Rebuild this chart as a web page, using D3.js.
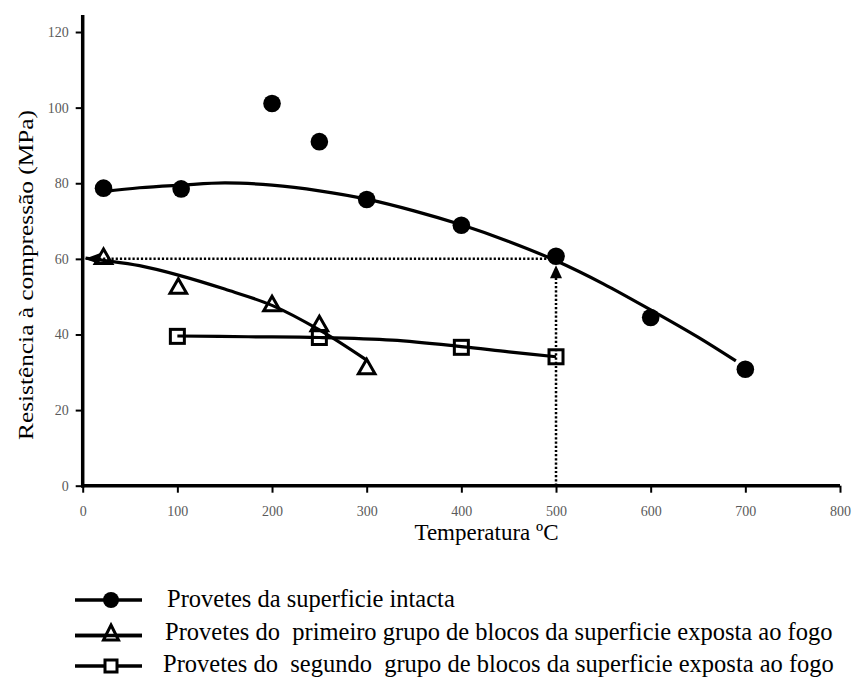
<!DOCTYPE html>
<html>
<head>
<meta charset="utf-8">
<script src="https://cdn.jsdelivr.net/npm/d3@7"></script>
<style>
  body { margin: 0; background: #fff; }
  text { font-family: "Liberation Serif", "Times New Roman", serif; }
</style>
</head>
<body>
<svg id="chart" width="855" height="682"></svg>
<script>
// Axis ticks
const xTicks = [0, 100, 200, 300, 400, 500, 600, 700, 800];
const yTicks = [0, 20, 40, 60, 80, 100, 120];

// Measured compressive strength (MPa) against temperature (°C)
const intactTemp = [22, 104, 200, 250, 300, 400, 500, 600, 700];
const intactStrength = [78.7, 78.5, 101.1, 91.0, 75.7, 68.9, 60.7, 44.5, 30.8];
const group1Temp = [22, 101, 200, 250, 300];
const group1Strength = [60.7, 52.8, 48.2, 42.9, 31.5];
const group2Temp = [100, 250, 400, 500];
const group2Strength = [39.5, 39.2, 36.6, 34.1];

// Fitted trend curves
const intactFitTemp = [22, 60, 104, 150, 200, 250, 300, 350, 400, 450, 500, 550, 600, 650, 690];
const intactFitStrength = [77.8, 78.8, 79.5, 80.1, 79.5, 78.0, 75.8, 72.7, 69.0, 64.6, 59.5, 53.4, 46.5, 39.3, 33.0];
const group1FitTemp = [3, 22, 60, 101, 150, 200, 250, 300];
const group1FitStrength = [60.2, 59.6, 58.2, 55.7, 52.0, 47.7, 41.2, 33.2];
const group2FitTemp = [100, 175, 250, 327, 400, 450, 500];
const group2FitStrength = [39.6, 39.4, 39.2, 38.5, 36.8, 35.4, 34.1];

// Reading guide: strength level 60 MPa reached at 500 °C
const guideTemp = 500;
const guideStrength = 60;
const guideArrowTip = 58.3;

// Legend labels
const legendLabels = [
  "Provetes da superficie intacta",
  "Provetes do  primeiro grupo de blocos da superficie exposta ao fogo",
  "Provetes do  segundo  grupo de blocos da superficie exposta ao fogo"
];

const svg = d3.select("#chart");

const x = d3.scaleLinear().domain([0, 800]).range([82.7, 840]);
const y = d3.scaleLinear().domain([0, 124.5]).range([485.7, 15]);

// Axes
const xAxis = svg.append("g")
  .attr("transform", `translate(0,${y(0)})`)
  .call(d3.axisBottom(x).tickValues(xTicks).tickSizeOuter(0).tickSize(7).tickPadding(13));
const yAxis = svg.append("g")
  .attr("transform", `translate(${x(0)},0)`)
  .call(d3.axisLeft(y).tickValues(yTicks).tickSizeOuter(0).tickSize(7).tickPadding(7));

[xAxis, yAxis].forEach(g => {
  g.select(".domain").attr("stroke", "#000").attr("stroke-width", 3.5);
  g.selectAll(".tick line").attr("stroke", "#000").attr("stroke-width", 2);
  g.selectAll(".tick text")
    .attr("fill", "#5a5a5a")
    .style("font-size", "14px")
    .style("font-family", "'Liberation Serif', serif");
});
xAxis.select(".domain").attr("d", `M${x(0) - 1.7},0H${x(800)}`);
yAxis.select(".domain").attr("d", `M0,${y(0) + 1.7}V${y(124.5)}`);

// Axis titles
svg.append("text")
  .attr("x", 486.5).attr("y", 540)
  .attr("text-anchor", "middle")
  .style("font-size", "23px")
  .text("Temperatura ºC");

svg.append("text")
  .attr("transform", "translate(33,275) rotate(-90)")
  .attr("text-anchor", "middle")
  .attr("textLength", 330)
  .attr("lengthAdjust", "spacingAndGlyphs")
  .style("font-size", "22px")
  .text("Resistência à compressão (MPa)");

// Dotted reading guides
const guides = svg.append("g")
  .attr("stroke", "#000")
  .attr("stroke-width", 2.5)
  .attr("stroke-dasharray", "2.2,2");
guides.append("line")
  .attr("x1", x(0) + 12).attr("x2", x(guideTemp))
  .attr("y1", y(guideStrength)).attr("y2", y(guideStrength));
guides.append("line")
  .attr("x1", x(guideTemp)).attr("x2", x(guideTemp))
  .attr("y1", y(0)).attr("y2", y(guideArrowTip) + 10);

// Arrowheads at the ends of the guides
const lx = x(0) + 2, ly = y(guideStrength);
svg.append("path")
  .attr("d", `M${lx},${ly}L${lx + 15},${ly - 5.5}L${lx + 15},${ly + 5.5}Z`)
  .attr("fill", "#000");
const ux = x(guideTemp), uy = y(guideArrowTip);
svg.append("path")
  .attr("d", `M${ux},${uy}L${ux - 6},${uy + 13}L${ux + 6},${uy + 13}Z`)
  .attr("fill", "#000");

// Trend curves
const line = d3.line()
  .x(d => x(d[0])).y(d => y(d[1]))
  .curve(d3.curveCatmullRom.alpha(0.5));
const curves = [
  [intactFitTemp, intactFitStrength],
  [group1FitTemp, group1FitStrength],
  [group2FitTemp, group2FitStrength]
];
curves.forEach(([t, s]) => {
  svg.append("path")
    .datum(t.map((v, i) => [v, s[i]]))
    .attr("d", line)
    .attr("fill", "none")
    .attr("stroke", "#000")
    .attr("stroke-width", 3.2);
});

// Marker shapes
function triPath(cx, cy, hw, h) {
  return `M${cx},${cy - h / 2}L${cx + hw},${cy + h / 2}L${cx - hw},${cy + h / 2}Z`;
}

// Intact surface: filled circles
svg.append("g").selectAll("circle")
  .data(intactTemp.map((t, i) => [t, intactStrength[i]]))
  .join("circle")
  .attr("cx", d => x(d[0])).attr("cy", d => y(d[1]))
  .attr("r", 8.8).attr("fill", "#000");

// First group: open triangles
svg.append("g").selectAll("path")
  .data(group1Temp.map((t, i) => [t, group1Strength[i]]))
  .join("path")
  .attr("d", d => triPath(x(d[0]), y(d[1]), 8.3, 14.5))
  .attr("fill", "none").attr("stroke", "#000").attr("stroke-width", 3)
  .attr("stroke-linejoin", "miter");

// Second group: open squares
svg.append("g").selectAll("rect")
  .data(group2Temp.map((t, i) => [t, group2Strength[i]]))
  .join("rect")
  .attr("x", d => x(d[0]) - 7).attr("y", d => y(d[1]) - 7)
  .attr("width", 14).attr("height", 14)
  .attr("fill", "none").attr("stroke", "#000").attr("stroke-width", 3);

// Legend
const legendRows = [
  { ly: 600, ty: 607, tx: 167, kind: "circle" },
  { ly: 635.5, ty: 640, tx: 165, kind: "triangle" },
  { ly: 666, ty: 672, tx: 163, kind: "square" }
];
const legend = svg.append("g");
legendRows.forEach((r, i) => {
  legend.append("line")
    .attr("x1", 75).attr("x2", 142).attr("y1", r.ly).attr("y2", r.ly)
    .attr("stroke", "#000").attr("stroke-width", 3.5);
  if (r.kind === "circle") {
    legend.append("circle").attr("cx", 111).attr("cy", r.ly).attr("r", 8).attr("fill", "#000");
  } else if (r.kind === "triangle") {
    legend.append("path").attr("d", triPath(111, r.ly - 3, 7.5, 15))
      .attr("fill", "#fff").attr("stroke", "#000").attr("stroke-width", 3);
    legend.append("line")
      .attr("x1", 75).attr("x2", 142).attr("y1", r.ly).attr("y2", r.ly)
      .attr("stroke", "#000").attr("stroke-width", 3.5);
  } else {
    legend.append("rect").attr("x", 105).attr("y", r.ly - 6).attr("width", 12).attr("height", 12)
      .attr("fill", "#fff").attr("stroke", "#000").attr("stroke-width", 3);
  }
  legend.append("text")
    .attr("x", r.tx).attr("y", r.ty)
    .attr("xml:space", "preserve")
    .style("white-space", "pre")
    .style("font-size", "24.5px")
    .text(legendLabels[i]);
});
</script>
</body>
</html>
